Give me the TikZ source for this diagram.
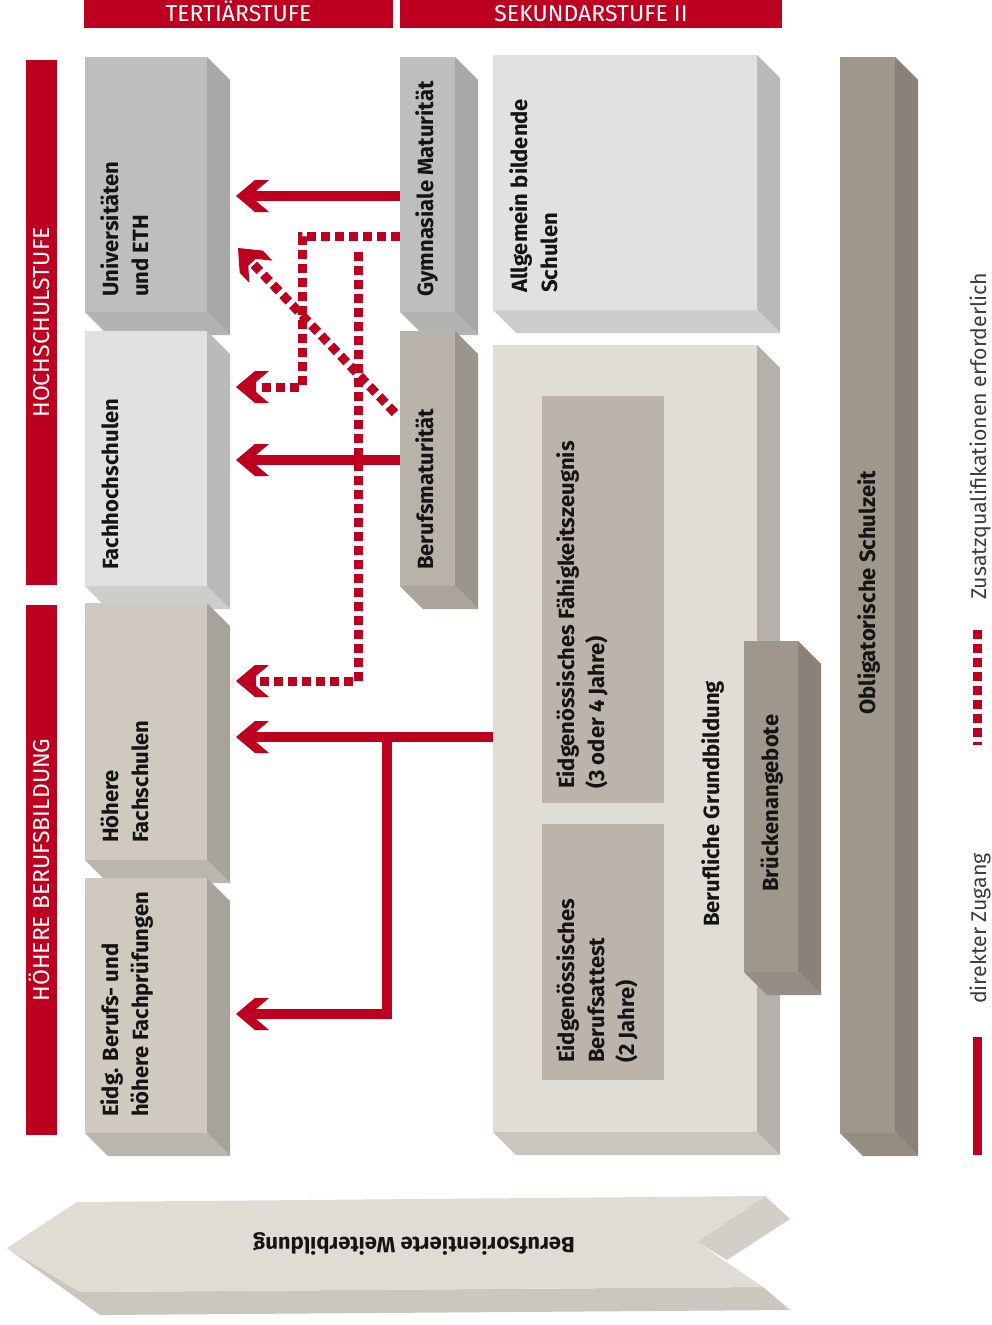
\documentclass[tikz,border=0pt]{standalone}
\usepackage{fontspec}
\setmainfont{Fira Sans}
\definecolor{rd}{RGB}{190,0,32}
\definecolor{txt}{RGB}{20,20,20}
\definecolor{legtxt}{RGB}{60,60,60}
\definecolor{cUf}{RGB}{190,190,190}\definecolor{cUs}{RGB}{168,168,168}\definecolor{cUb}{RGB}{178,178,178}
\definecolor{cFf}{RGB}{225,225,225}\definecolor{cFs}{RGB}{186,186,186}\definecolor{cFb}{RGB}{205,205,205}
\definecolor{cHf}{RGB}{207,201,192}\definecolor{cHs}{RGB}{167,163,155}\definecolor{cHb}{RGB}{186,181,173}
\definecolor{cBf}{RGB}{185,178,168}\definecolor{cBs}{RGB}{156,149,140}\definecolor{cBb}{RGB}{171,164,154}
\definecolor{cGBf}{RGB}{225,221,212}\definecolor{cGBs}{RGB}{181,177,170}\definecolor{cGBb}{RGB}{202,198,190}
\definecolor{cIn}{RGB}{188,180,170}
\definecolor{cKf}{RGB}{160,151,140}\definecolor{cKs}{RGB}{138,130,121}\definecolor{cKb}{RGB}{150,142,132}
\definecolor{cOf}{RGB}{160,151,139}\definecolor{cOs}{RGB}{137,129,119}\definecolor{cOb}{RGB}{150,141,130}
\definecolor{cWf}{RGB}{224,220,211}\definecolor{cWb}{RGB}{203,199,191}\definecolor{cWn}{RGB}{211,207,198}
% name, x0, y0, x1, y1, front, side, bottom
\newcommand{\cuboid}[8]{%
  \fill[#7] (#4,#3) -- ++(23,23) -- (#4+23,#5+23) -- (#4,#5) -- cycle;
  \fill[#8] (#2,#5) -- (#4,#5) -- (#4+23,#5+23) -- (#2+23,#5+23) -- cycle;
  \node[fill=#6, inner sep=0pt, outer sep=0pt, anchor=north west,
        minimum width={(#4-#2)*1pt}, minimum height={(#5-#3)*1pt}] (#1) at (#2,#3) {};
}
\begin{document}
\begin{tikzpicture}[x=1pt,y=-1pt,
  lbl/.style={rotate=90, anchor=base west, align=left, inner sep=0pt,
              font=\bfseries\fontsize{22}{30}\selectfont, text=txt},
  hdrtext/.style={anchor=base, inner sep=0pt, text=white, font=\fontsize{23}{26}\selectfont},
  sidetext/.style={rotate=90, anchor=base, inner sep=0pt, text=white, font=\fontsize{23}{26}\selectfont},
  legtext/.style={rotate=90, anchor=base west, inner sep=0pt, text=legtxt, font=\fontsize{21.3}{24}\selectfont},
  redbar/.style={fill=rd, inner sep=0pt, outer sep=0pt, anchor=north west},
  sline/.style={draw=rd, line width=10pt, shorten >=20pt},
  dline/.style={draw=rd, line width=9pt, dash pattern=on 9pt off 5pt, shorten >=23pt},
  rhead/.pic={\fill[rd] (0,0) -- (19,-16) -- (33,-16) -- (20,-5) -- (20,5) -- (33,16) -- (19,16) -- cycle;}
]
\useasboundingbox[fill=white] (0,0) rectangle (992,1325);

% header bars
\node[redbar, minimum width=309pt, minimum height=28pt] (tertbar) at (84,0) {};
\node[hdrtext] (tert) at (238.5,21) {TERTIÄRSTUFE};
\node[redbar, minimum width=382pt, minimum height=28pt] (sekbar) at (400,0) {};
\node[hdrtext] (sek) at (591,21) {SEKUNDARSTUFE II};

% side bars
\node[redbar, minimum width=31pt, minimum height=525pt] (hsbar) at (26,60) {};
\node[sidetext] (hs) at (49.5,322.5) {HOCHSCHULSTUFE};
\node[redbar, minimum width=31pt, minimum height=530pt] (hbbar) at (26,605) {};
\node[sidetext] (hb) at (49.5,870) {HÖHERE BERUFSBILDUNG};

% column 1
\cuboid{uni}{85}{57}{207}{312}{cUf}{cUs}{cUb}
\cuboid{fh}{85}{331}{207}{586}{cFf}{cFs}{cFb}
\cuboid{hfs}{85}{603}{207}{860}{cHf}{cHs}{cHb}
\cuboid{eidg}{85}{878}{207}{1133}{cHf}{cHs}{cHb}
% column 2
\cuboid{gym}{400}{57}{455}{312}{cUf}{cUs}{cUb}
\cuboid{bm}{400}{331}{455}{586}{cBf}{cBs}{cBb}
% column 3
\cuboid{abs}{493}{55}{757}{310}{cFf}{cFs}{cFb}
\cuboid{bg}{493}{345}{757}{1132}{cGBf}{cGBs}{cGBb}
\node[fill=cIn, inner sep=0pt, anchor=north west, minimum width=122pt, minimum height=407pt] (efz) at (542,396) {};
\node[fill=cIn, inner sep=0pt, anchor=north west, minimum width=122pt, minimum height=256pt] (eba) at (542,824) {};
\cuboid{bru}{744}{641}{798}{972}{cKf}{cKs}{cKb}
% column 4
\cuboid{obl}{840}{57}{895}{1133}{cOf}{cOs}{cOb}

% labels (base = baseline of the last line)
\node[lbl] (uni-t) at (148,297) {Universitäten\\und ETH};
\node[lbl] (fh-t) at (118,570) {Fachhochschulen};
\node[lbl] (hfs-t) at (148,843) {Höhere\\Fachschulen};
\node[lbl] (eidg-t) at (148,1117) {Eidg. Berufs- und\\höhere Fachprüfungen};
\node[lbl] (gym-t) at (433,297) {Gymnasiale Maturität};
\node[lbl] (bm-t) at (433,570) {Berufsmaturität};
\node[lbl] (abs-t) at (557,293) {Allgemein bildende\\Schulen};
\node[lbl] (efz-t) at (604,789) {Eidgenössisches Fähigkeitszeugnis\\(3 oder 4 Jahre)};
\node[lbl] (eba-t) at (634,1063) {Eidgenössisches\\Berufsattest\\(2 Jahre)};
\node[lbl] (bg-t) at (719,927) {Berufliche Grundbildung};
\node[lbl] (bru-t) at (778,892) {Brückenangebote};
\node[lbl] (obl-t) at (875,715) {Obligatorische Schulzeit};

% bottom arrow
\fill[cWb] (7,1248) -- (80,1292) -- (763,1287) -- (790,1310) -- (100,1315) -- cycle;
\fill[cWn] (765,1196) -- (790,1219) -- (727,1260) -- (697,1242) -- cycle;
\fill[cWf] (77,1202) -- (765,1196) -- (697,1242) -- (763,1287) -- (80,1292) -- (7,1248) -- cycle;
\node[rotate=180, anchor=base, inner sep=0pt, font=\bfseries\fontsize{22}{30}\selectfont, text=txt] (bw) at (414,1237) {Berufsorientierte Weiterbildung};

% arrow tips and helper points
\coordinate (tA) at (236,196);
\coordinate (tB) at (236,387);
\coordinate (tC) at (238,248);
\coordinate (tD) at (236,460);
\coordinate (tE) at (236,681);
\coordinate (tF) at (236,737);
\coordinate (tG) at (236,1014);
\coordinate (br) at (358,252);
\coordinate (ds) at (395,413);
\coordinate (jn) at (387,733);

% connectors
\draw[dline] (gym.west |- 0,236) -| (302,387) -- (tB);
\draw[dline] (br) -- (358,681) -- (tE);
\draw[dline] (ds) -- (tC);
\draw[sline] (gym.west |- tA) -- (tA);
\draw[sline] (bm.west |- tD) -- (tD);
\draw[sline] (bg.west |- tF) -- (tF);
\draw[sline] (jn) -- (387,1014) -- (tG);
\pic at (tA) {rhead};
\pic at (tB) {rhead};
\pic[rotate=-46] at (tC) {rhead};
\pic at (tD) {rhead};
\pic at (tE) {rhead};
\pic at (tF) {rhead};
\pic at (tG) {rhead};

% legend
\coordinate (l1a) at (977,630);
\coordinate (l1b) at (977,745);
\coordinate (l2a) at (977,1037);
\coordinate (l2b) at (977,1155);
\draw[draw=rd, line width=9pt, dash pattern=on 9pt off 5pt] (l1a) -- (l1b);
\draw[draw=rd, line width=9pt] (l2a) -- (l2b);
\node[legtext] (leg1) at (986,600) {Zusatzqualifikationen erforderlich};
\node[legtext] (leg2) at (986,1004) {direkter Zugang};
\end{tikzpicture}
\end{document}
